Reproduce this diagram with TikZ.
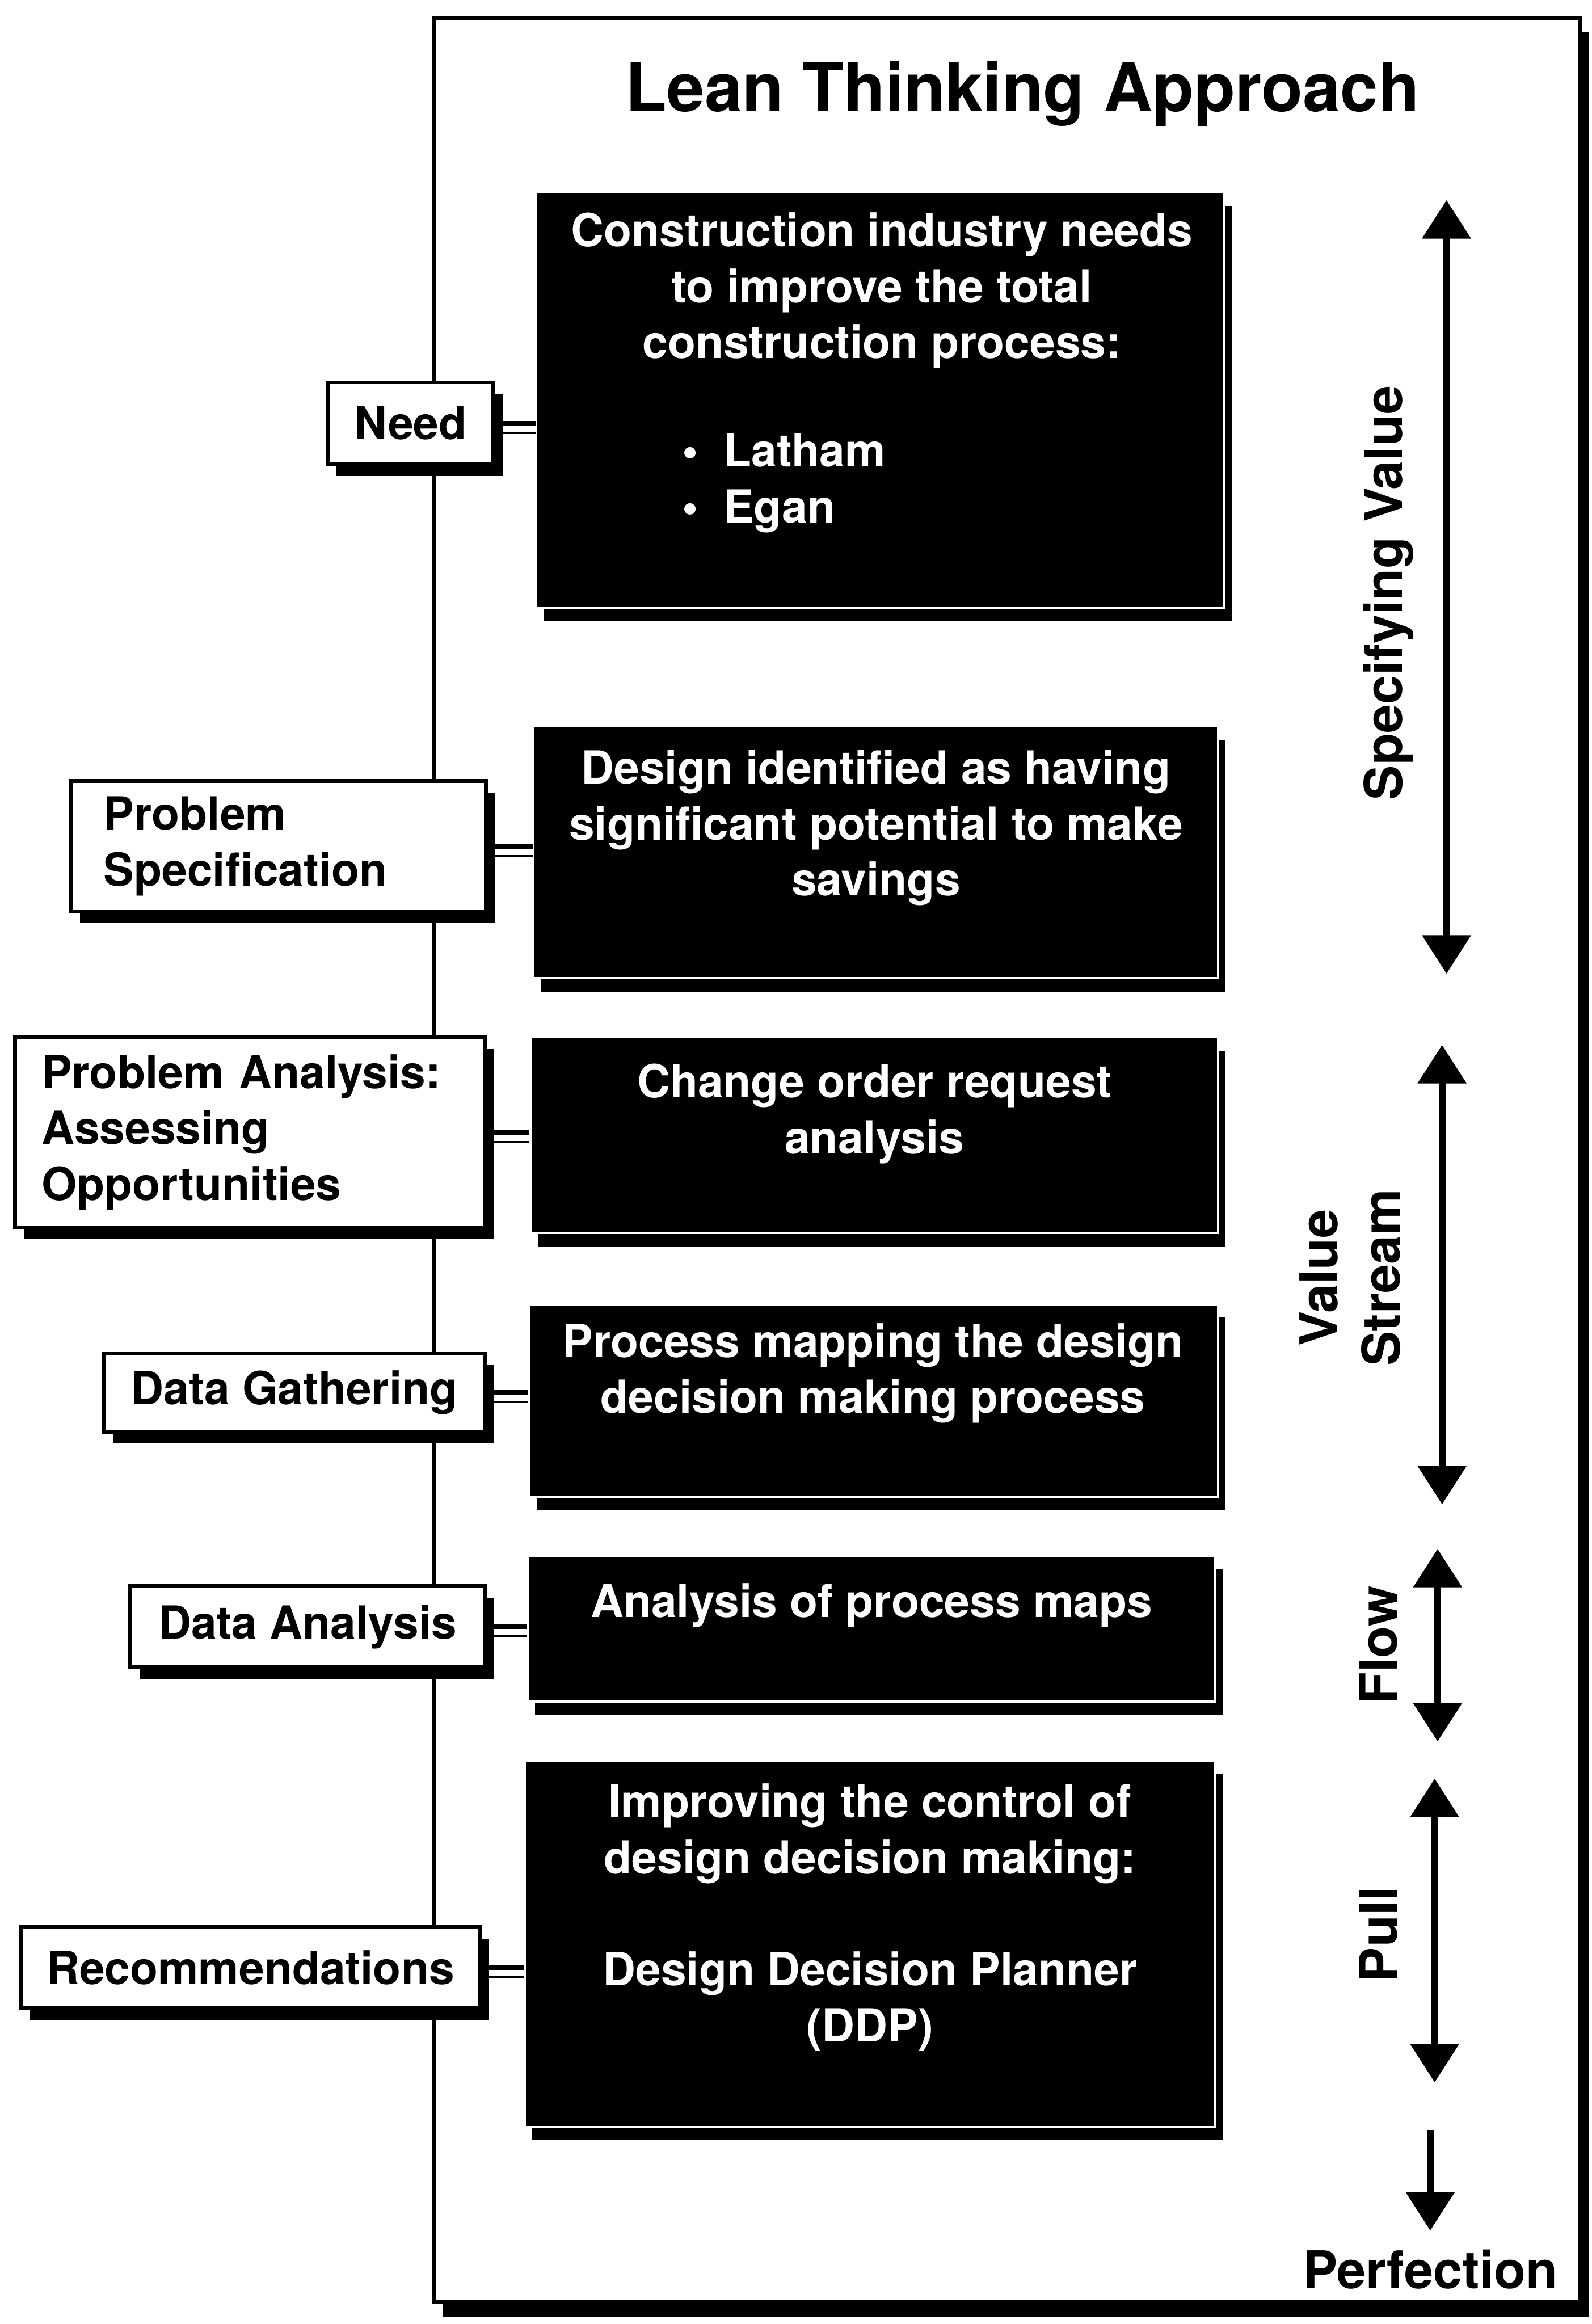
\documentclass[tikz,border=0pt]{standalone}
\usepackage{fontspec}
\setmainfont{TeX Gyre Heros}
\usetikzlibrary{arrows.meta,shadows}

\begin{document}
\begin{tikzpicture}[x=0.2mm,y=-0.2mm,
  frame/.style={line width=1.6pt,fill=white,
    general shadow={shadow xshift=1.2mm,shadow yshift=-2mm,fill=black}},
  labelbox/.style={draw,line width=1.5pt,fill=white,inner sep=0pt,
    font=\fontsize{17.5}{21.5}\selectfont\bfseries,
    general shadow={shadow xshift=1.2mm,shadow yshift=-1.6mm,fill=black}},
  darkbox/.style={fill=black,draw=white,line width=0.8pt,inner sep=0pt,
    general shadow={shadow xshift=1mm,shadow yshift=-1.8mm,fill=black}},
  dtext/.style={text=white,align=center,inner sep=0pt,
    font=\fontsize{17.5}{21.5}\selectfont\bfseries},
  sidelbl/.style={font=\fontsize{20}{24}\selectfont\bfseries,inner sep=0pt},
  link/.style={line width=1.8pt},
  linkb/.style={line width=0.8pt},
  dblarrow/.style={line width=2.6pt,{Triangle[width=6.4mm,length=5.2mm]}-{Triangle[width=6.4mm,length=5.2mm]}},
  onearrow/.style={line width=2.6pt,-{Triangle[width=6.4mm,length=5.2mm]}}]
\useasboundingbox (0,0) rectangle (1074,1568);

% outer frame and title
\draw[frame] (293,12) rectangle (1066,1553);
\node[font=\fontsize{26}{30}\selectfont\bfseries] (title) at (690,63) {Lean Thinking Approach};

% black boxes
\node[darkbox,minimum width=92.8mm,minimum height=56mm] (b1) at (594,270) {};
\node[darkbox,minimum width=92.4mm,minimum height=34mm] (b2) at (591,575) {};
\node[darkbox,minimum width=92.8mm,minimum height=26.4mm] (b3) at (590,766) {};
\node[darkbox,minimum width=93mm,minimum height=26mm] (b4) at (589.5,945) {};
\node[darkbox,minimum width=92.8mm,minimum height=19.6mm] (b5) at (588,1099) {};
\node[darkbox,minimum width=93.2mm,minimum height=49.4mm] (b6) at (587,1311.5) {};

\node[dtext] (t1) at (595,196) {Construction industry needs\\to improve the total\\construction process:};
\node[dtext,align=left,anchor=west] (t1b) at (460,326) {\textbullet\ \ Latham\\\textbullet\ \ Egan};
\node[dtext] (t2) at (591,558.5) {Design identified as having\\significant potential to make\\savings};
\node[dtext] (t3) at (590,751.5) {Change order request\\analysis};
\node[dtext] (t4) at (589,926.5) {Process mapping the design\\decision making process};
\node[dtext] (t5) at (588,1083) {Analysis of process maps};
\node[dtext] (t6) at (587,1293.5) {Improving the control of\\design decision making:\\[21.5pt]Design Decision Planner\\(DDP)};

% stage labels
\node[labelbox,minimum width=22.4mm,minimum height=11mm] (need) at (277,285.5) {Need};
\node[labelbox,align=left,text width=47.2mm,inner xsep=4.4mm,minimum height=17.6mm] (spec) at (188,571) {Problem\\Specification};
\node[labelbox,align=left,text width=56.2mm,inner xsep=3.6mm,minimum height=25.6mm] (anal) at (168.5,764) {Problem Analysis:\\Assessing\\Opportunities};
\node[labelbox,minimum width=51.4mm,minimum height=10.6mm] (gath) at (198.5,939.5) {Data Gathering};
\node[labelbox,minimum width=47.8mm,minimum height=11mm] (dana) at (207.5,1097.5) {Data Analysis};
\node[labelbox,minimum width=62mm,minimum height=11mm] (reco) at (169,1327.5) {Recommendations};

\foreach \lb/\bx in {need/b1,spec/b2,anal/b3,gath/b4,dana/b5,reco/b6}
{ \draw[link] (\lb.east) -- (\lb.east -| \bx.west);
  \draw[linkb] ([yshift=-1.3mm]\lb.east) -- ([yshift=-1.3mm]\lb.east -| \bx.west);}

% lean principles
\coordinate (sv1) at (976,135);  \coordinate (sv2) at (976,657);
\coordinate (vs1) at (973,705);  \coordinate (vs2) at (973,1015);
\coordinate (fl1) at (970,1045); \coordinate (fl2) at (970,1175);
\coordinate (pl1) at (968,1200); \coordinate (pl2) at (968,1405);
\coordinate (pf1) at (965,1437); \coordinate (pf2) at (965,1505);
\draw[dblarrow] (sv1) -- (sv2);
\draw[dblarrow] (vs1) -- (vs2);
\draw[dblarrow] (fl1) -- (fl2);
\draw[dblarrow] (pl1) -- (pl2);
\draw[onearrow] (pf1) -- (pf2);

\node[sidelbl,rotate=90] (spval) at (937,400) {Specifying Value};
\node[sidelbl,rotate=90,align=center] (vstream) at (911,862) {Value\\Stream};
\node[sidelbl,rotate=90] (flow) at (930,1110) {Flow};
\node[sidelbl,rotate=90] (pull) at (930,1305) {Pull};
\node[sidelbl] (perf) at (965,1531) {Perfection};
\end{tikzpicture}
\end{document}
